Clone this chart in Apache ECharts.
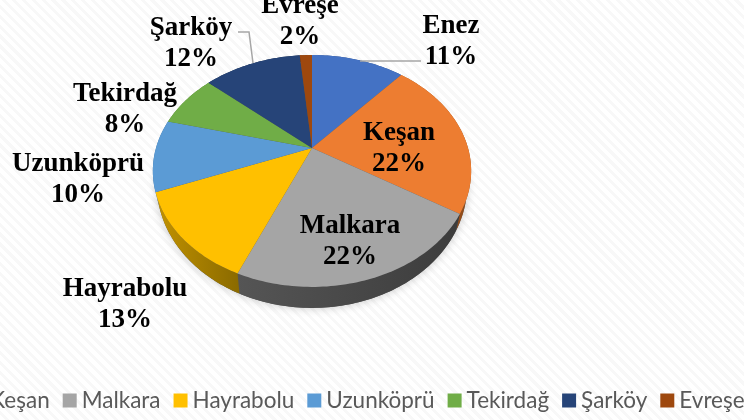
<!DOCTYPE html>
<html><head><meta charset="utf-8">
<style>html,body{margin:0;padding:0;width:744px;height:420px;overflow:hidden;background:#fff repeating-linear-gradient(45deg,#fff 0,#fff 4px,#f8f8f8 4px,#f8f8f8 7px)}#c{width:744px;height:420px}</style>
<script src="https://cdn.jsdelivr.net/npm/echarts@6/dist/echarts.min.js"></script>
</head><body><div id="c"></div>
<script>
const categories = ['Enez','Keşan','Malkara','Hayrabolu','Uzunköprü','Tekirdağ','Şarköy','Evreşe'];
const shares = [11.4,22.49,22.49,12.62,10,7.5,12,1.5];
const percentLabels = ['11%','22%','22%','13%','10%','8%','12%','2%'];
const colors = ['#4472c4','#ed7d31','#a5a5a5','#ffc000','#5b9bd5','#70ad47','#264478','#9e480e'];
const sideColors = [['#2a4a85','#2a4a85'],['#a8551c','#8f4a18'],['#555555','#3c3c3c'],['#c29200','#8a6a00'],['#3a6f9f','#3a6f9f'],['#4c7a2e','#4c7a2e'],['#15294b','#15294b'],['#6a3009','#6a3009']];
const labelCentres = [[451,42],[399,149],[350,242],[125,305],[78,180],[125,110],[191,44],[300,22]];
const leaders = {0:[[360,61],[421,61]],6:[[238,32],[249,32],[253,63]]};
const pie = {x:312,y:148,a:111.4,b:156,k:0.198,rimY:171,lowerY:185,scaleX:155/159,scaleY:123/116};

function rim(t){
  const u=Math.sin(t),v=Math.cos(t),d=1+pie.k*v;
  return [pie.x+pie.b*u/d,pie.y-pie.a*v/d];
}
function arc(t0,t1){
  const n=Math.max(2,Math.ceil((t1-t0)/0.02)),p=[];
  for(let i=0;i<=n;i++)p.push(rim(t0+(t1-t0)*i/n));
  return p;
}
function lowerPoint(p){
  return [pie.x+(p[0]-pie.x)*pie.scaleX,pie.lowerY+(p[1]-pie.rimY)*pie.scaleY];
}
const total=shares.reduce((a,b)=>a+b,0);
function renderSlice(params,api){
  const idx=params.seriesIndex,val=api.value(0);
  let before=0;for(let i=0;i<idx;i++)before+=shares[i];
  const t0=before/total*2*Math.PI,t1=(before+val)/total*2*Math.PI;
  const edge=arc(t0,t1);
  const lower=edge.map(lowerPoint).reverse();
  const children=[
    {type:'polygon',z2:1,shape:{points:edge.concat(lower)},style:{fill:new echarts.graphic.LinearGradient(0,0,1,0,[{offset:0,color:sideColors[idx][0]},{offset:1,color:sideColors[idx][1]}])}},
    {type:'polygon',z2:5,shape:{points:[[pie.x,pie.y]].concat(edge)},style:{fill:colors[idx]}},
    {type:'text',z2:20,x:labelCentres[idx][0],y:labelCentres[idx][1],style:{text:categories[idx]+'\n'+percentLabels[idx],align:'center',verticalAlign:'middle',font:'bold 27px "Liberation Serif"',lineHeight:31,fill:'#000'}}
  ];
  if(idx===0)children.push({type:'polygon',z2:0,shape:{points:arc(0,2*Math.PI).map(lowerPoint)},style:{fill:'#555',shadowBlur:10,shadowColor:'rgba(0,0,0,0.22)'}});
  if(leaders[idx])children.push({type:'polyline',z2:10,shape:{points:leaders[idx]},style:{fill:'none',stroke:'#a6a6a6',lineWidth:1.5}});
  return {type:'group',children};
}
const chart=echarts.init(document.getElementById('c'),null,{renderer:'canvas'});
chart.setOption({
  animation:false,
  backgroundColor:'transparent',
  legend:{data:categories,left:-113,top:384,width:1000,icon:'rect',itemWidth:14,itemHeight:14,itemGap:13,textStyle:{fontFamily:'Lato',fontSize:22.5,color:'#595959',padding:[0,0,0,0]}},
  series:categories.map((name,i)=>({type:'custom',name,coordinateSystem:'none',itemStyle:{color:colors[i]},renderItem:renderSlice,data:[[shares[i]]],silent:true,clip:false}))
});
</script></body></html>
